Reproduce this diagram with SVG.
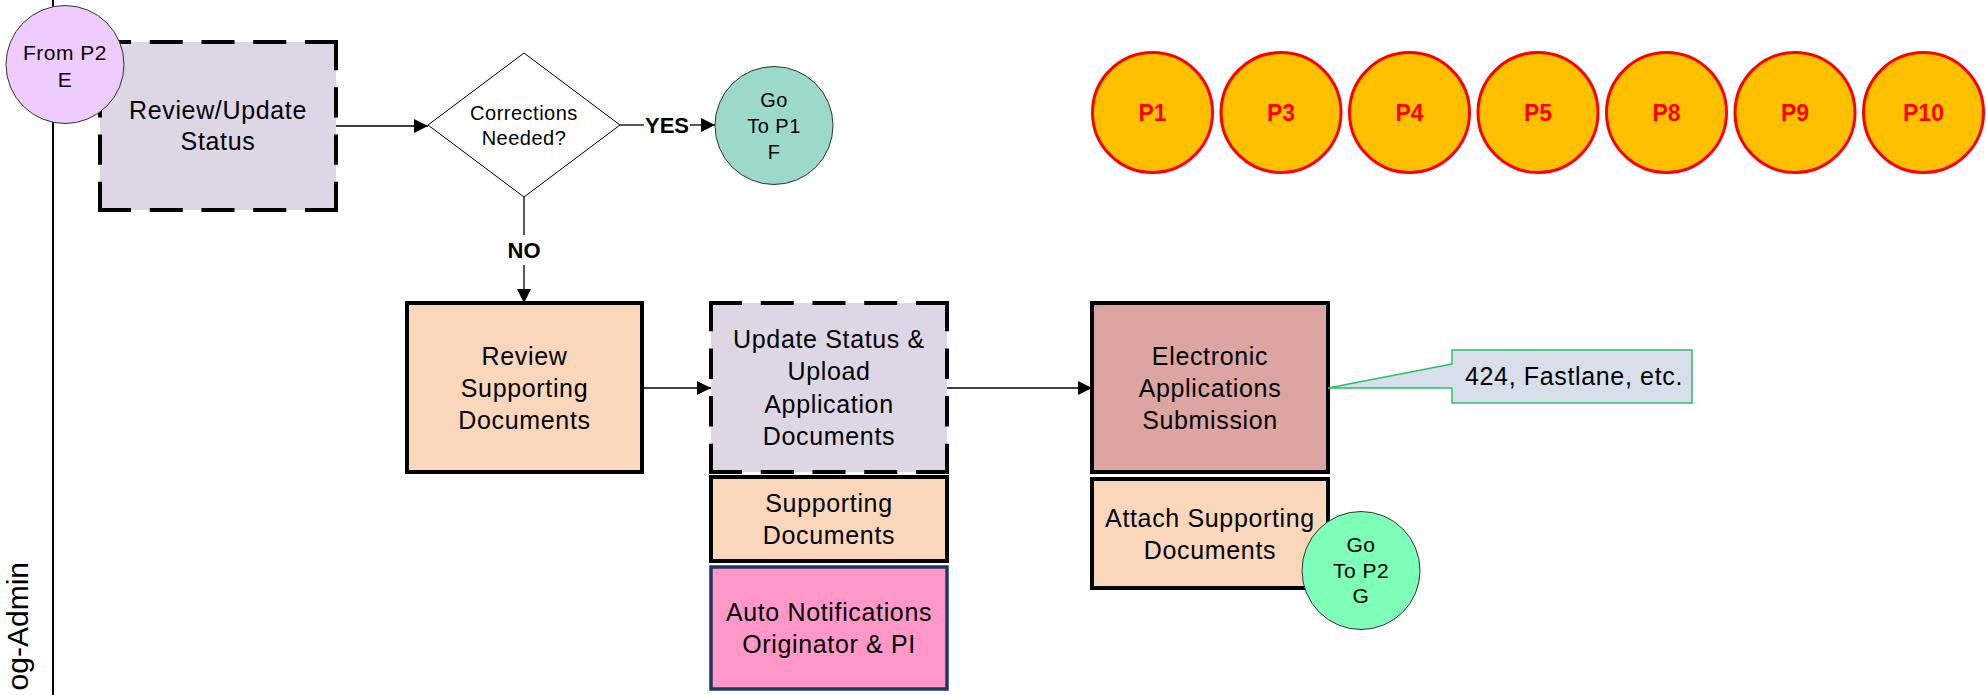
<svg xmlns="http://www.w3.org/2000/svg" width="1986" height="695" viewBox="0 0 1986 695">
  <style>
    text { font-family: "Liberation Sans", Arial, sans-serif; fill: #000; }
    .t24 { font-size: 25px; letter-spacing: 0.65px; text-anchor: middle; }
    .t20 { font-size: 20px; letter-spacing: 0.5px; text-anchor: middle; }
    .lbl { font-size: 22px; font-weight: bold; text-anchor: middle; }
    .plbl { font-size: 23px; font-weight: bold; text-anchor: middle; fill: #FF0000; }
    .box { stroke: #000; stroke-width: 4; }
    .dash { stroke: #000; stroke-width: 4; stroke-dasharray: 30 17; fill: none; }
    .lav { fill: #DCD6E5; }
    .peach { fill: #FAD7BA; }
    .conn { stroke: #000; stroke-width: 1.3; fill: none; }
    .pc { fill: #FFC000; stroke: #FF0000; stroke-width: 3; }
    .oc { stroke: #333; stroke-width: 1; }
  </style>
  <defs>
    <marker id="arrow" markerUnits="userSpaceOnUse" markerWidth="15" markerHeight="14" refX="14" refY="7" orient="auto">
      <path d="M0,0 L14,7 L0,14 Z" fill="#000"/>
    </marker>
  </defs>

  <rect width="1986" height="695" fill="#fff"/>

  <!-- swimlane border and title -->
  <g id="lane">
    <line x1="53" y1="0" x2="53" y2="695" stroke="#000" stroke-width="2"/>
    <text transform="translate(28,562) rotate(-90)" style="font-size:30px; text-anchor:end">og-Admin</text>
  </g>

  <!-- connectors -->
  <g id="connectors">
    <line class="conn" x1="336" y1="126" x2="428" y2="126" marker-end="url(#arrow)"/>
    <line class="conn" x1="620" y1="125" x2="644" y2="125"/>
    <text class="lbl" x="667" y="133">YES</text>
    <line class="conn" x1="690" y1="125" x2="715" y2="125" marker-end="url(#arrow)"/>
    <line class="conn" x1="524" y1="197" x2="524" y2="235"/>
    <text class="lbl" x="524" y="258">NO</text>
    <line class="conn" x1="524" y1="265" x2="524" y2="303" marker-end="url(#arrow)"/>
    <line class="conn" x1="642" y1="388" x2="711" y2="388" marker-end="url(#arrow)"/>
    <line class="conn" x1="947" y1="388" x2="1092" y2="388" marker-end="url(#arrow)"/>
  </g>

  <!-- Review/Update Status (dashed) -->
  <g id="reviewUpdate">
    <rect class="lav" x="100" y="42" width="236" height="168"/>
    <line class="dash" x1="98" y1="42" x2="338" y2="42" pathLength="218"/>
    <line class="dash" x1="98" y1="210" x2="338" y2="210" pathLength="218"/>
    <line class="dash" x1="100" y1="40" x2="100" y2="212" pathLength="171"/>
    <line class="dash" x1="336" y1="40" x2="336" y2="212" pathLength="171"/>
    <text class="t24" x="218" y="119">Review/Update</text>
    <text class="t24" x="218" y="150">Status</text>
  </g>

  <!-- off-page reference: From P2 E -->
  <g id="fromP2E">
    <circle class="oc" cx="65" cy="64.5" r="59" fill="#EFCCFE"/>
    <text class="t20" x="65" y="59.5" style="font-size:21px">From P2</text>
    <text class="t20" x="65" y="86.5" style="font-size:21px">E</text>
  </g>

  <!-- decision -->
  <g id="correctionsNeeded">
    <polygon points="524,53 620,125 524,197 428,125" fill="#fff" stroke="#000" stroke-width="1"/>
    <text class="t20" x="524" y="120">Corrections</text>
    <text class="t20" x="524" y="145">Needed?</text>
  </g>

  <!-- off-page reference: Go To P1 F -->
  <g id="goToP1F">
    <circle class="oc" cx="774" cy="125.5" r="59" fill="#9CD9C8"/>
    <text class="t20" x="774" y="107">Go</text>
    <text class="t20" x="774" y="133">To P1</text>
    <text class="t20" x="774" y="159">F</text>
  </g>

  <!-- Review Supporting Documents -->
  <g id="reviewSupporting">
    <rect class="box peach" x="407" y="303" width="235" height="169"/>
    <text class="t24" x="524.5" y="364.5">Review</text>
    <text class="t24" x="524.5" y="396.5">Supporting</text>
    <text class="t24" x="524.5" y="428.5">Documents</text>
  </g>

  <!-- Update Status & Upload Application Documents (dashed) -->
  <g id="updateUpload">
    <rect class="lav" x="711" y="303" width="236" height="169"/>
    <line class="dash" x1="709" y1="303" x2="949" y2="303" pathLength="218"/>
    <line class="dash" x1="709" y1="472" x2="949" y2="472" pathLength="218"/>
    <line class="dash" x1="711" y1="301" x2="711" y2="474" pathLength="171"/>
    <line class="dash" x1="947" y1="301" x2="947" y2="474" pathLength="171"/>
    <text class="t24" x="829" y="348">Update Status &amp;</text>
    <text class="t24" x="829" y="380">Upload</text>
    <text class="t24" x="829" y="412.5">Application</text>
    <text class="t24" x="829" y="445">Documents</text>
  </g>

  <!-- Supporting Documents -->
  <g id="supportingDocs">
    <rect class="box peach" x="711" y="477" width="236" height="84"/>
    <text class="t24" x="829" y="512">Supporting</text>
    <text class="t24" x="829" y="544">Documents</text>
  </g>

  <!-- Auto Notifications -->
  <g id="autoNotifications">
    <rect x="711" y="567" width="236" height="122" fill="#FF97C9" stroke="#1F3864" stroke-width="3.5"/>
    <text class="t24" x="829" y="621">Auto Notifications</text>
    <text class="t24" x="829" y="653">Originator &amp; PI</text>
  </g>

  <!-- Electronic Applications Submission -->
  <g id="electronicSubmission">
    <rect class="box" x="1092" y="303" width="236" height="169" fill="#DDA5A1"/>
    <text class="t24" x="1210" y="364.5">Electronic</text>
    <text class="t24" x="1210" y="396.5">Applications</text>
    <text class="t24" x="1210" y="428.5">Submission</text>
  </g>

  <!-- callout -->
  <g id="callout">
    <rect x="1452" y="350" width="240" height="53" fill="#D6DFEA" stroke="#2DBE6C" stroke-width="1.5"/>
    <polygon points="1453,364 1328,388 1453,388" fill="#D6DFEA"/>
    <polyline points="1452,364 1328,388 1452,388" fill="none" stroke="#2DBE6C" stroke-width="1.5"/>
    <text class="t24" x="1574" y="385">424, Fastlane, etc.</text>
  </g>

  <!-- Attach Supporting Documents -->
  <g id="attachSupporting">
    <rect class="box peach" x="1092" y="479" width="236" height="109"/>
    <text class="t24" x="1210" y="527">Attach Supporting</text>
    <text class="t24" x="1210" y="559">Documents</text>
  </g>

  <!-- off-page reference: Go To P2 G -->
  <g id="goToP2G">
    <circle class="oc" cx="1361" cy="570.5" r="59" fill="#7DFFB7"/>
    <text class="t20" x="1361" y="552" style="font-size:21px">Go</text>
    <text class="t20" x="1361" y="578" style="font-size:21px">To P2</text>
    <text class="t20" x="1361" y="603" style="font-size:21px">G</text>
  </g>

  <!-- page references -->
  <g id="pageP1"><circle class="pc" cx="1152.5" cy="112.5" r="60"/><text class="plbl" x="1152.5" y="121">P1</text></g>
  <g id="pageP3"><circle class="pc" cx="1281" cy="112.5" r="60"/><text class="plbl" x="1281" y="121">P3</text></g>
  <g id="pageP4"><circle class="pc" cx="1409.5" cy="112.5" r="60"/><text class="plbl" x="1409.5" y="121">P4</text></g>
  <g id="pageP5"><circle class="pc" cx="1538" cy="112.5" r="60"/><text class="plbl" x="1538" y="121">P5</text></g>
  <g id="pageP8"><circle class="pc" cx="1666.5" cy="112.5" r="60"/><text class="plbl" x="1666.5" y="121">P8</text></g>
  <g id="pageP9"><circle class="pc" cx="1795" cy="112.5" r="60"/><text class="plbl" x="1795" y="121">P9</text></g>
  <g id="pageP10"><circle class="pc" cx="1923.5" cy="112.5" r="60"/><text class="plbl" x="1923.5" y="121">P10</text></g>
</svg>
